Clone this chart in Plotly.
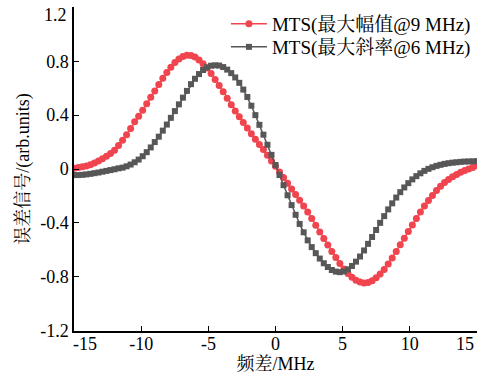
import plotly.graph_objects as go

# Frequency detuning grid (MHz)
freq = [-15.0, -14.7, -14.4, -14.1, -13.8, -13.5, -13.2, -12.9, -12.6, -12.3,
        -12.0, -11.7, -11.4, -11.1, -10.8, -10.5, -10.2, -9.9, -9.6, -9.3,
        -9.0, -8.7, -8.4, -8.1, -7.8, -7.5, -7.2, -6.9, -6.6, -6.3,
        -6.0, -5.7, -5.4, -5.1, -4.8, -4.5, -4.2, -3.9, -3.6, -3.3,
        -3.0, -2.7, -2.4, -2.1, -1.8, -1.5, -1.2, -0.9, -0.6, -0.3,
        0.0, 0.3, 0.6, 0.9, 1.2, 1.5, 1.8, 2.1, 2.4, 2.7,
        3.0, 3.3, 3.6, 3.9, 4.2, 4.5, 4.8, 5.1, 5.4, 5.7,
        6.0, 6.3, 6.6, 6.9, 7.2, 7.5, 7.8, 8.1, 8.4, 8.7,
        9.0, 9.3, 9.6, 9.9, 10.2, 10.5, 10.8, 11.1, 11.4, 11.7,
        12.0, 12.3, 12.6, 12.9, 13.2, 13.5, 13.8, 14.1, 14.4, 14.7, 15.0]

# MTS error signal, maximum amplitude @ 9 MHz
mts_amp = [0.005, 0.011, 0.017, 0.023, 0.032, 0.045, 0.060, 0.076, 0.094, 0.115,
           0.140, 0.175, 0.213, 0.255, 0.300, 0.350, 0.392, 0.436, 0.484, 0.532,
           0.580, 0.628, 0.674, 0.717, 0.756, 0.790, 0.816, 0.835, 0.845, 0.843,
           0.832, 0.810, 0.782, 0.750, 0.710, 0.665, 0.620, 0.574, 0.526, 0.478,
           0.430, 0.388, 0.346, 0.304, 0.262, 0.220, 0.182, 0.144, 0.102, 0.060,
           0.020, -0.022, -0.064, -0.106, -0.148, -0.190, -0.232, -0.275, -0.320, -0.368,
           -0.418, -0.468, -0.516, -0.565, -0.612, -0.658, -0.702, -0.742, -0.776, -0.804,
           -0.826, -0.840, -0.846, -0.843, -0.830, -0.808, -0.780, -0.746, -0.706, -0.660,
           -0.612, -0.563, -0.514, -0.465, -0.416, -0.368, -0.320, -0.275, -0.234, -0.196,
           -0.160, -0.128, -0.100, -0.078, -0.058, -0.040, -0.025, -0.012, 0.000, 0.012, 0.024]

# MTS error signal, maximum slope @ 6 MHz
mts_slope = [-0.045, -0.045, -0.043, -0.040, -0.036, -0.031, -0.026, -0.020, -0.014, -0.008,
             -0.002, 0.005, 0.010, 0.020, 0.033, 0.050, 0.070, 0.095, 0.125, 0.160,
             0.200, 0.240, 0.285, 0.330, 0.380, 0.430, 0.480, 0.530, 0.580, 0.630,
             0.670, 0.705, 0.735, 0.755, 0.767, 0.770, 0.768, 0.757, 0.738, 0.712,
             0.680, 0.640, 0.590, 0.535, 0.470, 0.400, 0.328, 0.255, 0.180, 0.105,
             0.030, -0.045, -0.120, -0.195, -0.268, -0.340, -0.408, -0.470, -0.530, -0.580,
             -0.625, -0.665, -0.700, -0.728, -0.750, -0.762, -0.766, -0.760, -0.745, -0.720,
             -0.688, -0.650, -0.605, -0.556, -0.505, -0.453, -0.400, -0.350, -0.300, -0.255,
             -0.212, -0.172, -0.137, -0.105, -0.077, -0.053, -0.032, -0.014, 0.001, 0.013,
             0.023, 0.031, 0.038, 0.043, 0.047, 0.050, 0.053, 0.055, 0.056, 0.057, 0.058]

series_names = ["MTS(最大幅值@9 MHz)", "MTS(最大斜率@6 MHz)"]

x_tick_vals = [-15, -10, -5, 0, 5, 10, 15]
x_tick_text = ["-15", "-10", "-5", "0", "5", "10", "15"]
y_tick_vals = [-1.2, -0.8, -0.4, 0, 0.4, 0.8, 1.2]
y_tick_text = ["-1.2", "-0.8", "-0.4", "0", "0.4", "0.8", "1.2"]

x_title = "频差/MHz"
y_title = "误差信号/(arb.units)"

FONT = "Liberation Serif, Times New Roman, Noto Serif CJK SC, Noto Sans CJK SC, serif"
TICKFONT = dict(family=FONT, size=18, color="black")

fig = go.Figure()
fig.add_trace(go.Scatter(
    x=freq, y=mts_amp, name=series_names[0], mode="lines+markers",
    line=dict(color="#F0444F", width=1.5),
    marker=dict(symbol="circle", size=7, color="#F0444F"),
    legend="legend",
))
fig.add_trace(go.Scatter(
    x=freq, y=mts_slope, name=series_names[1], mode="lines+markers",
    line=dict(color="#575757", width=1.5),
    marker=dict(symbol="square", size=6, color="#575757"),
    legend="legend2",
))

axis_common = dict(
    showline=True, linecolor="black", linewidth=1.5, mirror=False,
    ticks="inside", ticklen=5, tickwidth=1.2, tickcolor="black",
    showgrid=False, zeroline=False, automargin=False,
    ticklabeloverflow="allow",
    tickfont=TICKFONT,
)

legend_common = dict(
    xanchor="left", yanchor="middle",
    bgcolor="rgba(0,0,0,0)", borderwidth=0,
    font=dict(family=FONT, size=19, color="black"),
    itemwidth=36,
)

# End tick labels are drawn pulled inwards (as in the original figure)
x_inner_text = ["" if v in (x_tick_vals[0], x_tick_vals[-1]) else t
                for v, t in zip(x_tick_vals, x_tick_text)]
y_inner_text = ["" if v == y_tick_vals[-1] else t
                for v, t in zip(y_tick_vals, y_tick_text)]

annotations = [
    dict(text=x_tick_text[0], xref="paper", yref="paper", x=11 / 403, y=-13 / 324,
         xanchor="center", yanchor="middle", showarrow=False, font=TICKFONT),
    dict(text=x_tick_text[-1], xref="paper", yref="paper", x=1 - 12 / 403, y=-13 / 324,
         xanchor="center", yanchor="middle", showarrow=False, font=TICKFONT),
    dict(text=y_tick_text[-1], xref="paper", yref="paper", x=-5 / 403, y=1 - 8 / 324,
         xanchor="right", yanchor="middle", showarrow=False, font=TICKFONT),
]

fig.update_layout(
    width=489, height=377,
    margin=dict(l=74, r=12, t=7, b=46, autoexpand=False),
    paper_bgcolor="white", plot_bgcolor="white",
    font=dict(family=FONT, size=18, color="black"),
    showlegend=True,
    hovermode=False,
    legend=dict(x=0.377, y=0.9475, **legend_common),
    legend2=dict(x=0.377, y=0.8765, **legend_common),
    annotations=annotations,
    xaxis=dict(
        range=[-15.02, 15.02], tickvals=x_tick_vals, ticktext=x_inner_text,
        ticklabelstandoff=-4,
        title=dict(text=x_title, standoff=0, font=dict(family=FONT, size=18)),
        **axis_common,
    ),
    yaxis=dict(
        range=[-1.203, 1.203], tickvals=y_tick_vals, ticktext=y_inner_text,
        title=dict(text=y_title, standoff=6, font=dict(family=FONT, size=18)),
        **axis_common,
    ),
)

fig.write_html(
    "out.html",
    config={"displayModeBar": False},
    post_script="document.body.style.margin='0';document.body.style.overflow='hidden';",
)
